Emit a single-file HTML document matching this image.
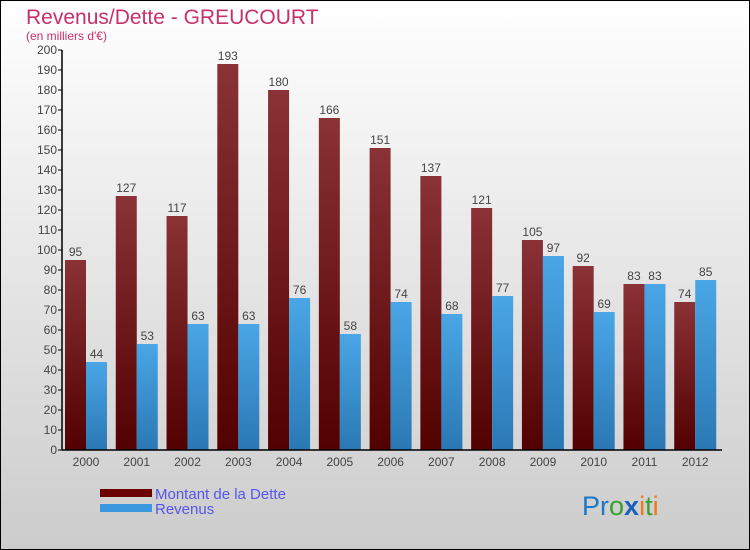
<!DOCTYPE html>
<html><head><meta charset="utf-8"><style>
body{margin:0;width:750px;height:550px;overflow:hidden}
svg{display:block;font-family:"Liberation Sans","DejaVu Sans",sans-serif}
</style></head><body>
<svg id="c" width="750" height="550" xmlns="http://www.w3.org/2000/svg">
<defs>
<linearGradient id="bg" x1="0" y1="0" x2="0" y2="1"><stop offset="0" stop-color="#ffffff"/><stop offset="1" stop-color="#cccccc"/></linearGradient>
<linearGradient id="gd" x1="0" y1="0" x2="0" y2="1"><stop offset="0" stop-color="#8a3236"/><stop offset="1" stop-color="#520000"/></linearGradient>
<linearGradient id="gb" x1="0" y1="0" x2="0" y2="1"><stop offset="0" stop-color="#4aa6e6"/><stop offset="1" stop-color="#2a78b4"/></linearGradient>
</defs>
<rect x="0.5" y="0.5" width="749" height="549" fill="url(#bg)" stroke="#000"/>
<text x="26" y="24" font-size="21" fill="#c8306a">Revenus/Dette - GREUCOURT</text>
<text x="26" y="40" font-size="12" fill="#c8306a">(en milliers d'€)</text>
<g id="plot"></g>
<g>
<rect x="100" y="489" width="52" height="8" fill="#6a0000"/>
<text x="155" y="499" font-size="15" fill="#5555ee">Montant de la Dette</text>
<rect x="100" y="504" width="52" height="8" fill="#3a98de"/>
<text x="155" y="514" font-size="15" fill="#5555ee">Revenus</text>
</g>
<text x="582" y="515" font-size="27"><tspan fill="#1a78c8">Pr</tspan><tspan fill="#38a030">o</tspan><tspan fill="#1a60c0" font-weight="bold">x</tspan><tspan fill="#f07818">i</tspan><tspan fill="#38a030">t</tspan><tspan fill="#f07818">i</tspan></text>
</svg>
<script>
const years=["2000","2001","2002","2003","2004","2005","2006","2007","2008","2009","2010","2011","2012"];
const dette=[95,127,117,193,180,166,151,137,121,105,92,83,74];
const revenus=[44,53,63,63,76,58,74,68,77,97,69,83,85];
const yTicks=[0,10,20,30,40,50,60,70,80,90,100,110,120,130,140,150,160,170,180,190,200];
const NS="http://www.w3.org/2000/svg";
const g=document.getElementById('plot');
const X0=62,X1=722,Y0=450,Y1=50,YMAX=200;
const step=(X1-X0)/years.length;
const y=v=>Y0-(v/YMAX)*(Y0-Y1);
function mk(t,a){const e=document.createElementNS(NS,t);for(const k in a)e.setAttribute(k,a[k]);g.appendChild(e);return e;}
yTicks.forEach(t=>{
 const l=mk('line',{x1:X0-4,x2:X0,y1:y(t),y2:y(t),stroke:'#000'});
 
 
 const tx=mk('text',{x:X0-5,y:y(t)+4,'font-size':12,'text-anchor':'end',fill:'#444'});
 tx.textContent=t;
 
 
});
years.forEach((yr,i)=>{
 const gx=X0+3+i*step;
 const bw=21;
 const d=mk('rect',{x:gx,y:y(dette[i]),width:bw,height:Y0-y(dette[i]),fill:'url(#gd)'});
 
 
 const r=mk('rect',{x:gx+bw,y:y(revenus[i]),width:bw,height:Y0-y(revenus[i]),fill:'url(#gb)'});
 
 
 const t1=mk('text',{x:gx+bw/2,y:y(dette[i])-4,'font-size':12,'text-anchor':'middle',fill:'#444'});
 t1.textContent=dette[i];
 
 
 const t2=mk('text',{x:gx+bw*1.5,y:y(revenus[i])-4,'font-size':12,'text-anchor':'middle',fill:'#444'});
 t2.textContent=revenus[i];
 
 
 const xl=mk('text',{x:gx+bw,y:Y0+16,'font-size':12,'text-anchor':'middle',fill:'#444'});
 xl.textContent=yr;
 
 
});
const ya=mk('line',{x1:X0,x2:X0,y1:Y1,y2:Y0,stroke:'#000','stroke-width':1.5});


const xa=mk('line',{x1:X0,x2:X1,y1:Y0,y2:Y0,stroke:'#000','stroke-width':1.5});


</script>
</body></html>
